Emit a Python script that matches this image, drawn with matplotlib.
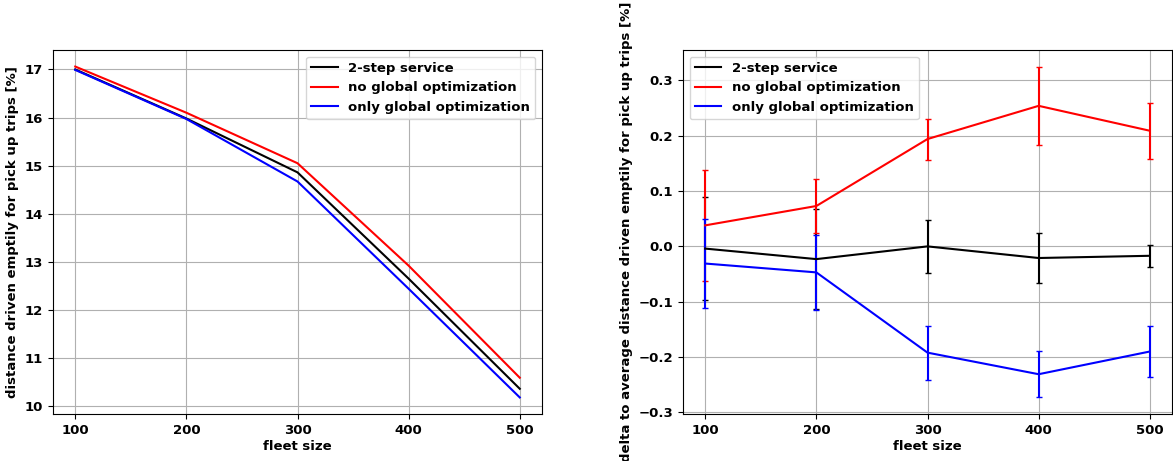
import matplotlib
matplotlib.use("Agg")
import matplotlib.pyplot as plt

fleet_size = [100, 200, 300, 400, 500]
series_names = ["2-step service", "no global optimization", "only global optimization"]
colors = ["black", "red", "blue"]

# left panel: distance driven emptily [%]
empty_2step = [17.00, 15.98, 14.86, 12.65, 10.36]
empty_noglobal = [17.06, 16.10, 15.05, 12.92, 10.59]
empty_onlyglobal = [16.99, 15.97, 14.67, 12.44, 10.18]

# right panel: delta to average with error bars
delta_2step = [-0.004, -0.023, 0.000, -0.021, -0.017]
err_2step = [0.093, 0.090, 0.048, 0.045, 0.020]
delta_noglobal = [0.038, 0.073, 0.194, 0.254, 0.209]
err_noglobal = [0.100, 0.048, 0.037, 0.071, 0.051]
delta_onlyglobal = [-0.031, -0.047, -0.192, -0.231, -0.190]
err_onlyglobal = [0.080, 0.068, 0.049, 0.042, 0.046]

plt.rcParams['font.family'] = ['DejaVu Sans']
plt.rcParams['font.weight'] = 'bold'
plt.rcParams['axes.labelweight'] = 'bold'

W, H = 1173, 461
fig = plt.figure(figsize=(W / 100, H / 100), dpi=100)
ax1 = fig.add_axes([53 / W, 1 - 414 / H, 489 / W, 364 / H])
ax2 = fig.add_axes([683 / W, 1 - 414 / H, 489 / W, 364 / H])

fs_tick = 9.5
fs_lab = 9.5

for vals, name, c in zip([empty_2step, empty_noglobal, empty_onlyglobal], series_names, colors):
    ax1.plot(fleet_size, vals, color=c, lw=1.5, label=name)
ax1.set_xlabel("fleet size", fontsize=fs_lab, fontweight='bold', labelpad=2)
ax1.set_ylabel("distance driven emptily for pick up trips [%]", fontsize=fs_lab, fontweight='bold')
ax1.grid(True)
ax1.legend(loc='upper right', prop={'weight': 'bold', 'size': fs_lab})

line_handles = []
for vals, errs, name, c in zip([delta_2step, delta_noglobal, delta_onlyglobal],
                               [err_2step, err_noglobal, err_onlyglobal], series_names, colors):
    cont = ax2.errorbar(fleet_size, vals, yerr=errs, color=c, lw=1.5, elinewidth=1.5,
                        capsize=2, capthick=1, label=name)
    line_handles.append(cont[0])
ax2.set_xlabel("fleet size", fontsize=fs_lab, fontweight='bold', labelpad=2)
ax2.set_ylabel("delta to average distance driven emptily for pick up trips [%]", fontsize=fs_lab, fontweight='bold')
ax2.grid(True)
ax2.set_yticks([-0.3, -0.2, -0.1, 0.0, 0.1, 0.2, 0.3])
ax2.legend(line_handles, series_names, loc='upper left', prop={'weight': 'bold', 'size': fs_lab})

for ax in (ax1, ax2):
    ax.set_xticks(fleet_size)
    ax.tick_params(labelsize=fs_tick)
    for lab in ax.get_xticklabels() + ax.get_yticklabels():
        lab.set_fontweight('bold')

fig.savefig("out.png", dpi=100)
